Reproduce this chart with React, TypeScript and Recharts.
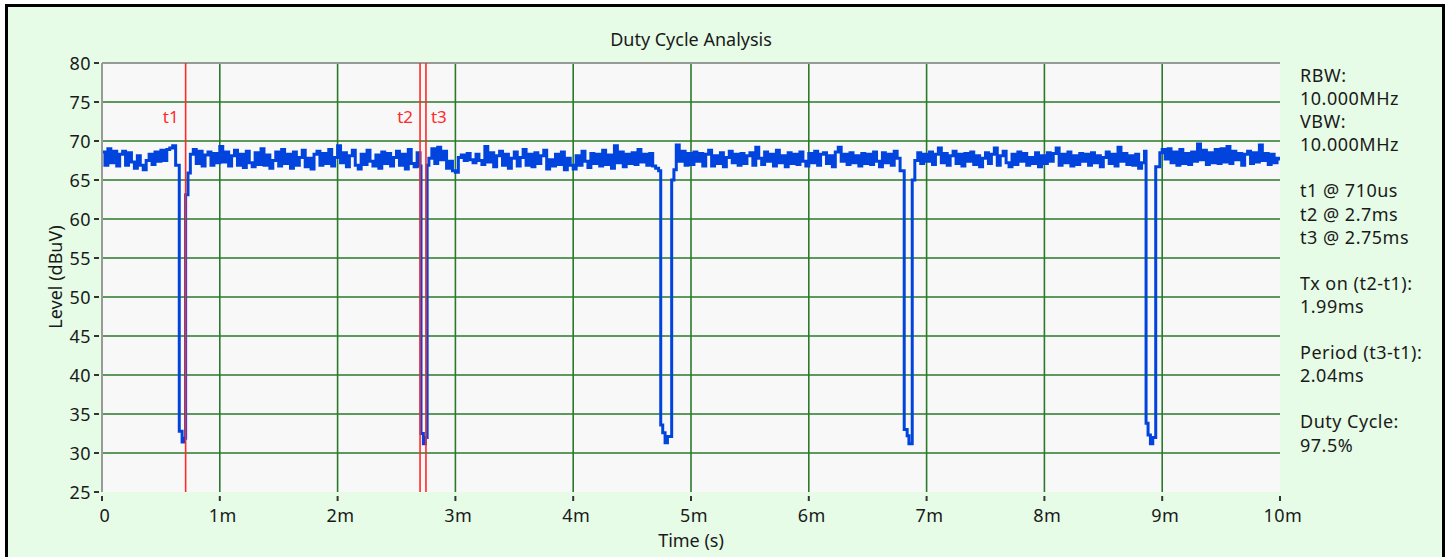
import { LineChart, Line, XAxis, YAxis, CartesianGrid, ReferenceLine, Label } from 'recharts';

// sample spacing of the level trace, in ms
const timeStepMs = 0.025;

// level (dBuV) read every 0.025 ms, 0 .. 10 ms
const baseLevels = [
  68.6, 66.9, 69.0, 67.2, 68.7, 66.8, 68.3, 68.7, 66.9, 68.5, 67.3, 66.5, 68.1, 66.9, 66.3, 67.5, 68.3, 67.0, 68.6, 67.4,
  68.8, 67.5, 68.9, 69.1, 69.4, 67.0, 67.0, 67.0, 67.0, 67.0, 68.3, 68.9, 67.1, 68.7, 66.8, 68.2, 68.6, 66.9, 68.4, 67.2,
  69.3, 67.3, 68.6, 66.8, 68.1, 68.8, 66.9, 68.3, 66.6, 68.7, 67.2, 66.7, 68.5, 67.0, 69.0, 66.9, 68.2, 66.5, 67.5, 68.6,
  66.8, 68.9, 67.1, 68.3, 66.5, 68.6, 66.9, 67.9, 68.8, 66.7, 67.8, 66.4, 68.3, 68.7, 66.9, 68.4, 67.1, 68.9, 66.8, 67.9,
  69.4, 67.2, 68.5, 66.7, 68.1, 68.8, 66.9, 66.4, 68.3, 67.0, 68.8, 67.4, 66.8, 68.2, 66.5, 68.6, 67.1, 68.4, 66.8, 67.9,
  68.7, 66.9, 68.3, 66.4, 68.9, 67.1, 66.7, 68.5, 66.8, 67.0, 67.0, 67.8, 69.0, 67.1, 69.2, 67.6, 68.7, 66.5, 67.4, 66.2,
  66.0, 67.9, 68.2, 67.5, 68.4, 67.6, 67.2, 68.3, 67.5, 67.0, 69.3, 67.3, 68.5, 66.7, 68.1, 68.7, 66.9, 68.3, 66.5, 67.8,
  68.6, 66.8, 67.9, 68.9, 66.9, 68.3, 66.7, 68.5, 67.1, 68.1, 68.8, 66.4, 67.6, 66.8, 68.3, 67.0, 68.6, 66.3, 67.8, 66.9,
  66.4, 68.1, 66.9, 68.7, 67.4, 66.6, 68.4, 67.1, 68.3, 66.8, 68.8, 67.0, 68.2, 66.5, 69.4, 67.2, 68.6, 66.7, 68.3, 67.1,
  68.5, 67.0, 68.9, 67.3, 68.3, 66.9, 68.4, 66.8, 66.5, 66.2, 66.6, 66.6, 66.6, 66.6, 66.6, 69.5, 67.4, 68.7, 66.9, 68.4,
  67.0, 68.6, 67.4, 68.4, 66.8, 68.3, 68.8, 66.8, 68.1, 67.1, 68.5, 66.7, 67.9, 68.7, 67.2, 68.3, 66.9, 68.4, 67.1, 68.1,
  68.5, 66.9, 69.2, 67.8, 67.0, 68.6, 67.4, 68.3, 66.8, 68.8, 67.2, 68.1, 66.7, 68.5, 67.1, 68.3, 67.0, 68.6, 67.4, 66.8,
  68.4, 67.2, 68.7, 66.9, 68.3, 68.5, 67.1, 68.1, 66.7, 68.6, 69.2, 67.4, 68.3, 67.0, 68.5, 67.2, 68.1, 66.8, 68.4, 67.1,
  68.3, 67.0, 68.6, 67.4, 66.7, 68.5, 67.2, 68.3, 66.9, 68.7, 67.8, 66.2, 67.0, 67.0, 67.0, 67.0, 67.0, 68.5, 67.1, 68.3,
  67.4, 68.6, 67.0, 68.3, 69.1, 67.2, 68.4, 66.9, 68.1, 68.7, 67.1, 68.3, 66.8, 68.4, 67.4, 68.6, 67.0, 68.1, 66.7, 67.8,
  68.5, 67.1, 68.3, 69.1, 66.9, 68.1, 68.7, 67.2, 66.7, 68.3, 67.0, 68.6, 67.4, 68.4, 66.9, 67.9, 67.1, 68.5, 66.7, 68.1,
  67.1, 68.5, 67.4, 68.4, 69.1, 66.9, 68.3, 67.2, 68.6, 66.8, 68.1, 67.0, 68.4, 67.4, 68.3, 66.9, 68.5, 67.2, 68.1, 66.7,
  67.9, 68.6, 67.1, 68.3, 66.8, 69.2, 67.4, 68.4, 67.0, 68.1, 66.9, 68.3, 66.5, 67.2, 68.7, 67.0, 67.0, 67.0, 67.0, 67.0,
  68.9, 67.7, 69.0, 67.2, 68.6, 66.9, 68.9, 67.1, 68.4, 67.0, 68.6, 67.4, 69.6, 67.6, 68.8, 67.0, 68.5, 67.2, 68.9, 67.1,
  69.0, 67.3, 69.3, 67.1, 68.7, 67.6, 68.4, 66.9, 68.3, 68.7, 67.1, 68.5, 67.3, 69.5, 67.5, 68.4, 67.0, 68.3, 67.2, 67.8,
  67.5,
];

// transmitter-off gaps: [time ms, level dBuV]
const dip1 = [[0.625, 66.9], [0.656, 32.8], [0.68, 31.4], [0.695, 31.9], [0.71, 63.1], [0.73, 65.9]];
const dip2 = [[2.708, 32.5], [2.728, 31.2], [2.745, 32.0], [2.76, 66.9]];
const dip3 = [[4.743, 33.6], [4.76, 32.6], [4.78, 31.3], [4.8, 32.1], [4.836, 65.0], [4.855, 66.3]];
const dip4 = [[6.8, 66.2], [6.81, 33.0], [6.835, 32.2], [6.85, 31.2], [6.878, 65.0], [6.9, 67.5]];
const dip5 = [[8.863, 33.8], [8.88, 32.3], [8.9, 31.2], [8.92, 32.0], [8.945, 66.7], [8.98, 68.5]];
const dips = [dip1, dip2, dip3, dip4, dip5];

const markers = [
  { name: 't1', time: 0.71, side: 'left' },
  { name: 't2', time: 2.7, side: 'left' },
  { name: 't3', time: 2.75, side: 'right' },
];

const xTicks = [0, 1, 2, 3, 4, 5, 6, 7, 8, 9, 10];
const yTicks = [25, 30, 35, 40, 45, 50, 55, 60, 65, 70, 75, 80];
const xGrid = [1, 2, 3, 4, 5, 6, 7, 8, 9];
const yGrid = [30, 35, 40, 45, 50, 55, 60, 65, 70, 75];

const infoLines = [
  'RBW:', '10.000MHz', 'VBW:', '10.000MHz', '',
  't1 @ 710us', 't2 @ 2.7ms', 't3 @ 2.75ms', '',
  'Tx on (t2-t1):', '1.99ms', '',
  'Period (t3-t1):', '2.04ms', '',
  'Duty Cycle:', '97.5%',
];

const FONT = '"Noto Sans", "DejaVu Sans", sans-serif';
const GRID_GREEN = '#2a7a2a';
const MARKER_RED = '#ff2a2a';
const TEXT = '#1a1a1a';

function buildTrace() {
  const pts: { t: number; level: number }[] = [];
  baseLevels.forEach((v, i) => {
    const t = Math.round(i * timeStepMs * 1000) / 1000;
    const covered = dips.some((d) => t >= d[0][0] - 1e-9 && t <= d[d.length - 1][0] + 1e-9);
    if (!covered) pts.push({ t, level: v });
  });
  dips.forEach((d) => d.forEach(([t, v]) => pts.push({ t, level: v })));
  return pts.sort((a, b) => a.t - b.t);
}

const trace = buildTrace();

function YTick(props: any) {
  const { x, y, payload } = props;
  return (
    <g>
      <line x1={x - 8} x2={x - 3} y1={y} y2={y} stroke="#333" strokeWidth={2} />
      <text x={x - 11} y={y} textAnchor="end" dominantBaseline="central" fontSize={18} letterSpacing={0.5} fill={TEXT} fontFamily={FONT}>
        {payload.value}
      </text>
    </g>
  );
}

function XTick(props: any) {
  const { x, y, payload } = props;
  const label = payload.value === 0 ? '0' : `${payload.value}m`;
  return (
    <g>
      <line x1={x} x2={x} y1={y + 4} y2={y + 9} stroke="#333" strokeWidth={2} />
      <text x={x + 3} y={y + 30} textAnchor="middle" fontSize={18} letterSpacing={0.5} fill={TEXT} fontFamily={FONT}>
        {label}
      </text>
    </g>
  );
}

export default function App() {
  return (
    <div style={{ position: 'absolute', left: 0, top: 0, width: 1451, height: 557, overflow: 'hidden', background: '#fff', fontFamily: FONT }}>
      {/* frame */}
      <div style={{ position: 'absolute', left: 5, top: 4, width: 1434, height: 600, border: '3px solid #000', background: '#e6fce6' }} />

      <div style={{ position: 'absolute', left: 0, top: 0 }}>
        <LineChart width={1451} height={557} data={trace} margin={{ top: 63, right: 171, bottom: 25, left: 42 }}>
          <CartesianGrid horizontal={false} vertical={false} fill="#f8f8f8" />
          {xGrid.map((v) => (
            <ReferenceLine key={`gx${v}`} x={v} stroke={GRID_GREEN} strokeWidth={1.6} />
          ))}
          {yGrid.map((v) => (
            <ReferenceLine key={`gy${v}`} y={v} stroke={GRID_GREEN} strokeWidth={1.6} />
          ))}
          <ReferenceLine y={80} stroke="#999" strokeWidth={2} />
          <XAxis
            dataKey="t"
            type="number"
            domain={[0, 10]}
            ticks={xTicks}
            allowDataOverflow
            axisLine={false}
            tickLine={false}
            tickSize={0}
            tickMargin={0}
            height={40}
            tick={XTick}
          />
          <YAxis
            type="number"
            domain={[25, 80]}
            ticks={yTicks}
            allowDataOverflow
            axisLine={{ stroke: '#999', strokeWidth: 2 }}
            tickLine={false}
            tickSize={0}
            tickMargin={0}
            width={60}
            tick={YTick}
          />
          <Line
            dataKey="level"
            type="stepAfter"
            stroke="#0044dd"
            strokeWidth={3}
            dot={false}
            isAnimationActive={false}
          />
          {markers.map((m) => (
            <ReferenceLine key={m.name} x={m.time} stroke={MARKER_RED} strokeWidth={1.6}>
              <Label
                content={(p: any) => {
                  const vb = p.viewBox || {};
                  const left = m.side === 'left';
                  return (
                    <text
                      x={left ? vb.x - 7 : vb.x + 5}
                      y={vb.y + 53}
                      textAnchor={left ? 'end' : 'start'}
                      dominantBaseline="central"
                      fontSize={17}
                      fill={MARKER_RED}
                      fontFamily={FONT}
                    >
                      {m.name}
                    </text>
                  );
                }}
              />
            </ReferenceLine>
          ))}
        </LineChart>
      </div>

      <div style={{ position: 'absolute', left: 0, top: 27, width: 1382, textAlign: 'center', fontSize: 18, color: TEXT }}>
        Duty Cycle Analysis
      </div>
      <div style={{ position: 'absolute', left: 0, top: 528, width: 1382, textAlign: 'center', fontSize: 18, color: TEXT }}>
        Time (s)
      </div>
      <div
        style={{
          position: 'absolute',
          left: 55,
          top: 277,
          transform: 'translate(-50%, -50%) rotate(-90deg)',
          whiteSpace: 'nowrap',
          fontSize: 18,
          color: TEXT,
        }}
      >
        Level (dBuV)
      </div>
      <div style={{ position: 'absolute', left: 1300, top: 64, fontSize: 18, letterSpacing: 0.5, lineHeight: '23.1px', color: TEXT }}>
        {infoLines.map((s, i) => (
          <div key={i} style={{ height: 23.1, whiteSpace: 'nowrap' }}>{s}</div>
        ))}
      </div>
    </div>
  );
}
